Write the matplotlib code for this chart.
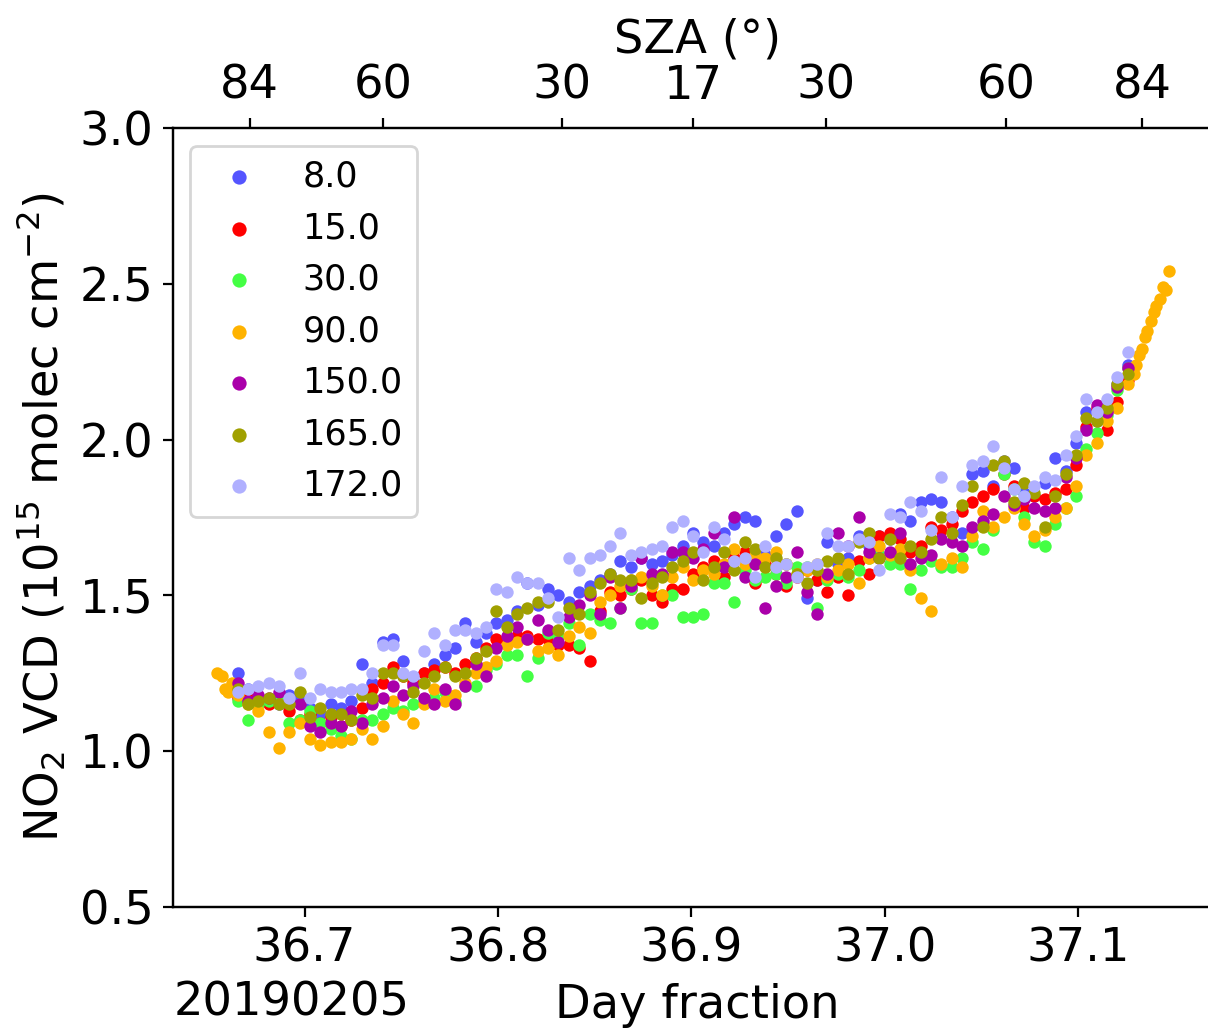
import numpy as np
import matplotlib
matplotlib.use('Agg')
import matplotlib.pyplot as plt

# scan times (day fraction), shared by all azimuths
t_scan = [36.6654, 36.6707, 36.6761, 36.6814, 36.6868, 36.6921, 36.6975, 36.7028, 36.7082, 36.7135,
          36.7189, 36.7242, 36.7296, 36.7349, 36.7403, 36.7456, 36.7510, 36.7563, 36.7617, 36.7670,
          36.7724, 36.7777, 36.7831, 36.7884, 36.7938, 36.7991, 36.8045, 36.8098, 36.8152, 36.8205,
          36.8259, 36.8312, 36.8366, 36.8419, 36.8473, 36.8526, 36.8580, 36.8633, 36.8687, 36.8740,
          36.8794, 36.8847, 36.8901, 36.8954, 36.9008, 36.9061, 36.9115, 36.9168, 36.9222, 36.9275,
          36.9329, 36.9382, 36.9436, 36.9489, 36.9543, 36.9596, 36.9650, 36.9703, 36.9757, 36.9810,
          36.9864, 36.9917, 36.9971, 37.0024, 37.0078, 37.0131, 37.0185, 37.0238, 37.0292, 37.0345,
          37.0399, 37.0452, 37.0506, 37.0559, 37.0613, 37.0666, 37.0720, 37.0773, 37.0827, 37.0880,
          37.0934, 37.0987, 37.1041, 37.1094, 37.1148, 37.1201, 37.1255]

# extra twilight scans of the 90 deg azimuth
t_90_head = [36.6545, 36.6571, 36.6587, 36.6602, 36.6623]
vcd_90_head = [1.25, 1.24, 1.20, 1.19, 1.22]
t_90_tail = [37.1289, 37.1300, 37.1315, 37.1331, 37.1346, 37.1357, 37.1377, 37.1393, 37.1403,
             37.1424, 37.1439, 37.1455, 37.1470]
vcd_90_tail = [2.21, 2.24, 2.27, 2.29, 2.33, 2.35, 2.38, 2.41, 2.43, 2.45, 2.49, 2.48, 2.54]

vcd_8 = [1.25, 1.20, 1.17, 1.16, 1.15, 1.18, 1.17, 1.14, 1.12, 1.15,
         1.14, 1.16, 1.28, 1.22, 1.35, 1.36, 1.29, 1.23, 1.25, 1.28,
         1.31, 1.33, 1.41, 1.35, 1.38, 1.41, 1.42, 1.45, 1.54, 1.47,
         1.52, 1.50, 1.48, 1.51, 1.53, 1.55, 1.57, 1.61, 1.59, 1.62,
         1.60, 1.61, 1.63, 1.66, 1.70, 1.67, 1.66, 1.70, 1.73, 1.75,
         1.74, 1.63, 1.69, 1.73, 1.77, 1.49, 1.55, 1.67, 1.60, 1.62,
         1.69, 1.66, 1.69, 1.68, 1.76, 1.74, 1.80, 1.81, 1.80, 1.75,
         1.70, 1.89, 1.90, 1.85, 1.93, 1.91, 1.83, 1.82, 1.86, 1.94,
         1.90, 1.99, 2.09, 2.06, 2.12, 2.18, 2.24]
vcd_15 = [1.17, 1.18, 1.16, 1.15, 1.17, 1.13, 1.10, 1.12, 1.09, 1.11,
          1.08, 1.10, 1.14, 1.20, 1.22, 1.27, 1.24, 1.22, 1.25, 1.26,
          1.27, 1.25, 1.28, 1.30, 1.33, 1.36, 1.35, 1.37, 1.37, 1.36,
          1.36, 1.34, 1.34, 1.33, 1.29, 1.45, 1.51, 1.50, 1.52, 1.55,
          1.50, 1.48, 1.52, 1.52, 1.57, 1.59, 1.61, 1.56, 1.62, 1.64,
          1.54, 1.60, 1.57, 1.53, 1.56, 1.58, 1.55, 1.51, 1.56, 1.50,
          1.61, 1.57, 1.69, 1.70, 1.68, 1.64, 1.66, 1.72, 1.71, 1.73,
          1.77, 1.80, 1.82, 1.84, 1.89, 1.85, 1.78, 1.82, 1.81, 1.83,
          1.84, 1.92, 2.04, 2.10, 2.03, 2.12, 2.19]
vcd_30 = [1.16, 1.10, 1.15, 1.16, 1.18, 1.09, 1.10, 1.13, 1.09, 1.07,
          1.05, 1.04, 1.10, 1.10, 1.12, 1.14, 1.13, 1.15, 1.16, 1.17,
          1.19, 1.16, 1.21, 1.21, 1.26, 1.28, 1.31, 1.31, 1.24, 1.30,
          1.38, 1.37, 1.41, 1.34, 1.44, 1.42, 1.41, 1.46, 1.52, 1.41,
          1.41, 1.50, 1.50, 1.43, 1.43, 1.44, 1.54, 1.54, 1.48, 1.58,
          1.55, 1.56, 1.57, 1.54, 1.59, 1.59, 1.46, 1.55, 1.57, 1.56,
          1.58, 1.62, 1.63, 1.60, 1.60, 1.52, 1.58, 1.61, 1.59, 1.59,
          1.62, 1.67, 1.65, 1.71, 1.89, 1.84, 1.75, 1.67, 1.66, 1.73,
          1.78, 1.82, 1.97, 2.02, 2.08, 2.16, 2.23]
vcd_90 = [1.18, 1.15, 1.13, 1.06, 1.01, 1.06, 1.09, 1.04, 1.02, 1.03,
          1.03, 1.04, 1.07, 1.04, 1.08, 1.16, 1.12, 1.09, 1.15, 1.20,
          1.16, 1.18, 1.22, 1.25, 1.27, 1.29, 1.34, 1.35, 1.36, 1.32,
          1.33, 1.31, 1.37, 1.40, 1.38, 1.48, 1.50, 1.53, 1.55, 1.56,
          1.53, 1.50, 1.56, 1.59, 1.55, 1.58, 1.57, 1.60, 1.65, 1.60,
          1.63, 1.62, 1.64, 1.60, 1.57, 1.58, 1.60, 1.56, 1.58, 1.60,
          1.54, 1.62, 1.66, 1.63, 1.65, 1.58, 1.49, 1.45, 1.60, 1.62,
          1.59, 1.69, 1.77, 1.72, 1.75, 1.78, 1.73, 1.69, 1.71, 1.75,
          1.78, 1.85, 1.95, 1.99, 2.06, 2.10, 2.18]
vcd_150 = [1.22, 1.16, 1.18, 1.17, 1.19, 1.16, 1.15, 1.08, 1.06, 1.09,
           1.08, 1.13, 1.09, 1.15, 1.17, 1.21, 1.18, 1.21, 1.17, 1.15,
           1.20, 1.15, 1.21, 1.28, 1.24, 1.33, 1.37, 1.40, 1.36, 1.42,
           1.39, 1.35, 1.43, 1.47, 1.50, 1.44, 1.56, 1.46, 1.53, 1.62,
           1.57, 1.57, 1.64, 1.64, 1.62, 1.65, 1.70, 1.59, 1.75, 1.56,
           1.60, 1.46, 1.53, 1.56, 1.64, 1.51, 1.44, 1.57, 1.70, 1.66,
           1.75, 1.64, 1.62, 1.64, 1.70, 1.60, 1.62, 1.63, 1.68, 1.67,
           1.66, 1.72, 1.74, 1.76, 1.82, 1.79, 1.81, 1.78, 1.77, 1.78,
           1.88, 1.94, 2.03, 2.11, 2.09, 2.17, 2.23]
vcd_165 = [1.20, 1.15, 1.16, 1.17, 1.15, 1.15, 1.19, 1.11, 1.14, 1.12,
           1.12, 1.10, 1.18, 1.17, 1.25, 1.25, 1.24, 1.19, 1.22, 1.24,
           1.27, 1.24, 1.25, 1.30, 1.32, 1.45, 1.40, 1.44, 1.46, 1.48,
           1.48, 1.39, 1.46, 1.44, 1.51, 1.54, 1.57, 1.55, 1.55, 1.49,
           1.54, 1.56, 1.59, 1.61, 1.64, 1.55, 1.59, 1.64, 1.58, 1.67,
           1.65, 1.59, 1.62, 1.60, 1.57, 1.54, 1.58, 1.61, 1.62, 1.57,
           1.67, 1.70, 1.62, 1.68, 1.62, 1.66, 1.64, 1.68, 1.75, 1.70,
           1.79, 1.85, 1.72, 1.92, 1.93, 1.80, 1.86, 1.83, 1.72, 1.82,
           1.89, 1.95, 2.07, 2.06, 2.10, 2.18, 2.21]
vcd_172 = [1.19, 1.20, 1.21, 1.22, 1.21, 1.17, 1.25, 1.17, 1.20, 1.19,
           1.19, 1.20, 1.20, 1.25, 1.34, 1.34, 1.25, 1.24, 1.32, 1.38,
           1.34, 1.39, 1.39, 1.38, 1.40, 1.52, 1.51, 1.56, 1.54, 1.54,
           1.49, 1.43, 1.62, 1.58, 1.62, 1.63, 1.66, 1.70, 1.63, 1.64,
           1.65, 1.66, 1.72, 1.74, 1.69, 1.64, 1.72, 1.68, 1.61, 1.62,
           1.56, 1.66, 1.59, 1.60, 1.56, 1.59, 1.60, 1.70, 1.66, 1.66,
           1.68, 1.67, 1.58, 1.76, 1.75, 1.80, 1.77, 1.71, 1.88, 1.75,
           1.85, 1.92, 1.93, 1.98, 1.91, 1.84, 1.82, 1.85, 1.88, 1.87,
           1.95, 2.01, 2.13, 2.09, 2.13, 2.20, 2.28]

azimuths = ['8.0', '15.0', '30.0', '90.0', '150.0', '165.0', '172.0']
colors = ['#5555ff', '#ff0000', '#44ff44', '#ffb300', '#aa00aa', '#a0a000', '#b0b0ff']

# SZA ticks on the top axis
sza_pos = [36.6716, 36.7408, 36.8333, 36.9010, 36.9693, 37.0628, 37.1331]
sza_labels = ['84', '60', '30', '17', '30', '60', '84']

series = [
    (t_scan, vcd_8),
    (t_scan, vcd_15),
    (t_scan, vcd_30),
    (t_90_head + t_scan + t_90_tail, vcd_90_head + vcd_90 + vcd_90_tail),
    (t_scan, vcd_150),
    (t_scan, vcd_165),
    (t_scan, vcd_172),
]

fs = 16.7

fig = plt.figure(figsize=(6.04, 5.145), dpi=200)
ax = fig.add_axes([0.1432, 0.1186, 0.868, 0.757])

for (t, v), lab, col in zip(series, azimuths, colors):
    ax.scatter(t, v, s=20, color=col, linewidths=0, label=lab)

ax.set_xlim(36.632, 37.174)
ax.set_ylim(0.5, 3.0)
ax.set_yticks([0.5, 1.0, 1.5, 2.0, 2.5, 3.0])
ax.set_xticks([36.7, 36.8, 36.9, 37.0, 37.1])
ax.tick_params(labelsize=fs)
ax.set_xlabel('Day fraction', fontsize=fs)
ax.set_ylabel(r'NO$_2$ VCD (10$^{15}$ molec cm$^{-2}$)', fontsize=fs)
ax.legend(loc='upper left', fontsize=12.6, markerscale=1.15)

ax2 = ax.twiny()
ax2.set_xlim(ax.get_xlim())
ax2.set_xticks(sza_pos)
ax2.set_xticklabels(sza_labels)
ax2.tick_params(labelsize=fs)
ax2.set_xlabel('SZA (°)', fontsize=fs)

fig.text(292 / 1208, 1 - 1016 / 1029, '20190205', fontsize=fs, ha='center', va='baseline')

fig.savefig('out.png', dpi=200)
